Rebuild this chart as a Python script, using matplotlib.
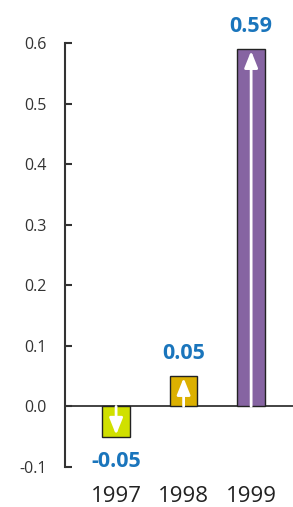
import numpy as np
from matplotlib import pyplot as plt

plt.rcParams['font.family'] = ['Open Sans', 'DejaVu Sans']

years = ['1997', '1998', '1999']
values = [-0.05, 0.05, 0.59]
colors = ['#d0e000', '#dcb000', '#8664a2']
labels = ['-0.05', '0.05', '0.59']
yticks = [-0.1, 0.0, 0.1, 0.2, 0.3, 0.4, 0.5, 0.6]

fig = plt.figure(figsize=(2.93, 5.07), dpi=100)
ax = fig.add_axes([0.222, 0.079, 0.778, 0.836])
x = np.arange(len(years))
ax.bar(x, values, width=0.41, color=colors, edgecolor='#222222', linewidth=1, zorder=2)

# 箭头
for xi, v in zip(x, values):
    ax.annotate('', xy=(xi, v - np.sign(v) * 0.003), xytext=(xi, 0),
                arrowprops=dict(arrowstyle='-|>,head_width=0.4,head_length=1.0',
                                color='white', lw=2, shrinkA=0, shrinkB=0), zorder=3)

# 数值标签
for xi, v, t in zip(x, values, labels):
    off = 0.038 if v > 0 else -0.041
    ax.text(xi, v + off, t, ha='center', va='center', color='#1a75bc',
            fontsize=15.5, fontweight='bold')

ax.axhline(0, color='#222222', lw=1.2, zorder=1, clip_on=False)
ax.set_xlim(-0.756, 2.62)
ax.set_ylim(-0.1, 0.6)
ax.set_yticks(yticks)
ax.set_yticklabels(['-0.1', '0.0', '0.1', '0.2', '0.3', '0.4', '0.5', '0.6'])
ax.tick_params(axis='y', direction='in', length=5, width=1.5, color='#333333',
               labelsize=11.5, labelcolor='#333333', pad=13)
ax.set_xticks(x)
ax.set_xticklabels(years)
ax.tick_params(axis='x', length=0, labelsize=16, labelcolor='#222222', pad=14)
for s in ['top', 'right', 'bottom']:
    ax.spines[s].set_visible(False)
ax.spines['left'].set_color('#333333')
ax.spines['left'].set_linewidth(1.5)

plt.savefig('out.png', dpi=100)
